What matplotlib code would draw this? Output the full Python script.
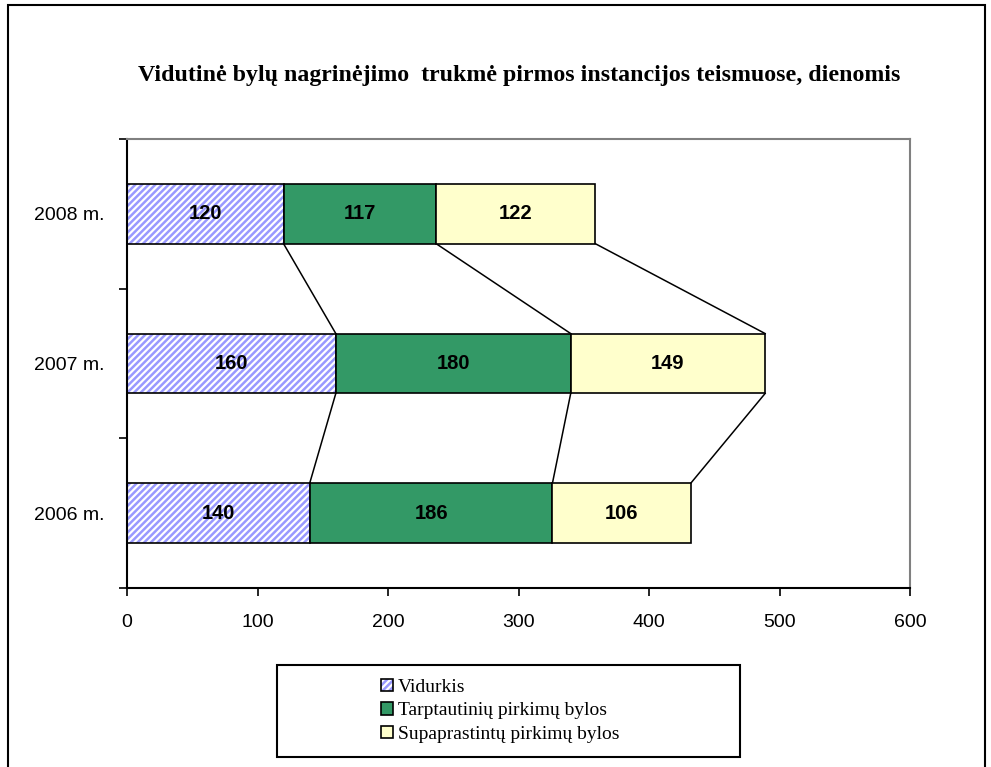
import matplotlib
matplotlib.use("Agg")
import matplotlib.pyplot as plt
from matplotlib.patches import Rectangle

years = ["2006 m.", "2007 m.", "2008 m."]
vidurkis = [140, 160, 120]
tarptautiniu = [186, 180, 117]
supaprastintu = [106, 149, 122]
series_names = ["Vidurkis", "Tarptautinių pirkimų bylos", "Supaprastintų pirkimų bylos"]
x_ticks = [0, 100, 200, 300, 400, 500, 600]

W, H = 991, 767
fig = plt.figure(figsize=(W / 100, H / 100), dpi=100)
ax = fig.add_axes([127 / W, 1 - 588 / H, (910 - 127) / W, (588 - 139) / H])

ypos = list(range(len(years)))
bh = 0.4
green = "#339966"
yellow = "#FFFFCC"
hatch_blue = "#9999FF"

plt.rcParams["hatch.linewidth"] = 1.8
# hatched first segment
ax.barh(ypos, vidurkis, height=bh, color="white", edgecolor=hatch_blue, hatch="/////", linewidth=0, zorder=2)
ax.barh(ypos, vidurkis, height=bh, color="none", edgecolor="black", linewidth=1.2, zorder=3)
left2 = vidurkis
ax.barh(ypos, tarptautiniu, left=left2, height=bh, color=green, edgecolor="black", linewidth=1.2, zorder=3)
left3 = [a + b for a, b in zip(vidurkis, tarptautiniu)]
ax.barh(ypos, supaprastintu, left=left3, height=bh, color=yellow, edgecolor="black", linewidth=1.2, zorder=3)

# labels
for i in ypos:
    starts = [0, vidurkis[i], left3[i]]
    vals = [vidurkis[i], tarptautiniu[i], supaprastintu[i]]
    for s, v in zip(starts, vals):
        ax.text(s + v / 2, i, str(v), ha="center", va="center", fontsize=14.5,
                fontweight="bold", family="Liberation Sans", zorder=4)

# series lines connecting bars
cums = []
for i in ypos:
    cums.append([vidurkis[i], left3[i], left3[i] + supaprastintu[i]])
for i in range(len(ypos) - 1):
    for k in range(3):
        ax.plot([cums[i][k], cums[i + 1][k]], [i + bh / 2, i + 1 - bh / 2],
                color="black", linewidth=1.1, zorder=1)

ax.set_xlim(0, 600)
ax.set_ylim(-0.5, 2.5)
ax.set_xticks(x_ticks)
ax.set_xticklabels([str(t) for t in x_ticks], family="Liberation Sans", fontsize=14)
ax.set_yticks([-0.5, 0.5, 1.5, 2.5])
ax.set_yticklabels([])
ax.set_yticks(ypos, minor=True)
ax.set_yticklabels(years, minor=True, family="Liberation Sans", fontsize=14)
ax.tick_params(axis="y", which="minor", length=0, pad=16)
ax.tick_params(axis="y", which="major", length=6, width=1.2, direction="out")
ax.tick_params(axis="x", length=6, width=1.2, direction="out", pad=13)

for s in ["top", "right"]:
    ax.spines[s].set_color("#808080")
    ax.spines[s].set_linewidth(1.5)
for s in ["left", "bottom"]:
    ax.spines[s].set_color("black")
    ax.spines[s].set_linewidth(1.5)

fig.text(519 / W, 1 - 75 / H,
         "Vidutinė bylų nagrinėjimo  trukmė pirmos instancijos teismuose, dienomis",
         ha="center", va="center", fontsize=17.2, fontweight="bold", family="Liberation Serif")

# legend box
fig.patches.append(Rectangle((277 / W, 1 - 757 / H), (740 - 277) / W, (757 - 665) / H,
                             transform=fig.transFigure, fill=False, edgecolor="black",
                             linewidth=1.5))
h1 = (Rectangle((0, 0), 1, 1, facecolor="white", edgecolor=hatch_blue, hatch="/////", linewidth=0),
      Rectangle((0, 0), 1, 1, facecolor="none", edgecolor="black", linewidth=1.2))
handles = [
    h1,
    Rectangle((0, 0), 1, 1, facecolor=green, edgecolor="black", linewidth=1.2),
    Rectangle((0, 0), 1, 1, facecolor=yellow, edgecolor="black", linewidth=1.2),
]
leg = fig.legend(handles, series_names, loc="upper left", bbox_to_anchor=(381 / W, 1 - 679 / H),
                 prop={"family": "Liberation Serif", "size": 14}, frameon=False,
                 handlelength=0.6, handleheight=0.6, handletextpad=0.25,
                 labelspacing=0.33, borderpad=0.0, borderaxespad=0.0)

# figure border
fig.patches.append(Rectangle((8 / W, -0.01), (985 - 8) / W, 1 - 5 / H + 0.01, transform=fig.transFigure,
                             fill=False, edgecolor="black", linewidth=1.5))

fig.savefig("out.png", dpi=100)
